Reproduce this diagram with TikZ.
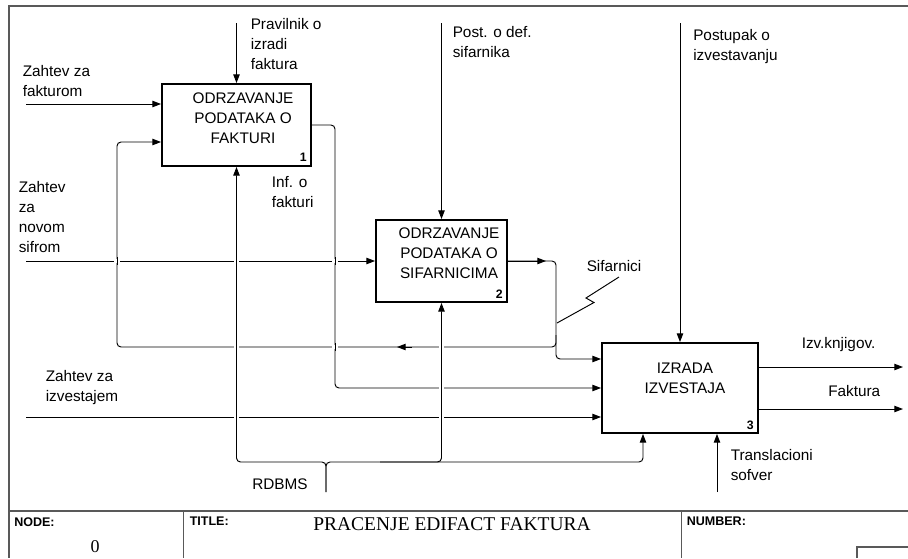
\documentclass[tikz,border=0pt]{standalone}
\usepackage{fontspec}
\setmainfont{Liberation Sans}
\newfontfamily\titlefont{Liberation Serif}
\usetikzlibrary{arrows.meta,calc}

% white gap in a horizontal line where a vertical line passes over it
\newcommand\crossgap[2]{%
  \fill[white] (#1-2.6,#2-1.6) rectangle (#1+2.6,#2+1.6);
  \draw[conn] (#1,#2-4) -- (#1,#2+4);}

\begin{document}
\begin{tikzpicture}[x=0.75pt,y=-0.75pt,
  conn/.style={line width=0.72pt, rounded corners=3pt},
  arr/.style={conn, -{Triangle[length=6.5pt,width=4.8pt]}},
  frame/.style={draw=black!65, line width=1.1pt},
  box/.style={draw, line width=1.4pt, inner sep=0pt},
  boxtext/.style={inner sep=0pt, align=center, font=\fontsize{11.5pt}{15pt}\selectfont},
  lbl/.style={inner sep=0pt, align=left, anchor=north west, font=\fontsize{11.5pt}{15pt}\selectfont},
  numlbl/.style={inner sep=0pt, anchor=south east, font=\bfseries\fontsize{9.2pt}{10pt}\selectfont},
  tbhead/.style={inner sep=0pt, anchor=north west, font=\bfseries\fontsize{9.4pt}{10pt}\selectfont}
]
\useasboundingbox (0,0) rectangle (908,558);

% ---- sheet frame and title block
\draw[frame] (908,6) -- (9,6) -- (9,558);
\draw[frame] (9,511) -- (908,511);
\draw[frame] (183.5,511) -- (183.5,558);
\draw[frame] (681.5,511) -- (681.5,558);
\draw[frame] (857,558) -- (857,547) -- (908,547);
\node[tbhead] (nodehd) at (14,517) {NODE:};
\node[tbhead] (titlehd) at (189.5,517) {TITLE:};
\node[tbhead] (numhd) at (686.5,517) {NUMBER:};
\node[inner sep=0pt, anchor=base, font=\titlefont\fontsize{14.6pt}{16pt}\selectfont] (title) at (452,530) {PRACENJE EDIFACT FAKTURA};
\node[inner sep=0pt, anchor=base, font=\titlefont\fontsize{13.5pt}{15pt}\selectfont] (nodeno) at (95,552.3) {0};

% ---- activity boxes
\node[box, minimum width={149*0.75pt}, minimum height={82*0.75pt}] (b1) at (236.5,125) {};
\node[box, minimum width={131*0.75pt}, minimum height={82*0.75pt}] (b2) at (441.5,261) {};
\node[box, minimum width={156*0.75pt}, minimum height={90*0.75pt}] (b3) at (680,388) {};
\node[boxtext, anchor=north] (t1) at (243,93) {ODRZAVANJE\\PODATAKA O\\FAKTURI};
\node[boxtext, anchor=north] (t2) at (449,228) {ODRZAVANJE\\PODATAKA O\\SIFARNICIMA};
\node[boxtext, anchor=north] (t3) at (685,363) {IZRADA\\IZVESTAJA};
\node[numlbl] (n1) at ($(b1.south east)+(-5,-5)$) {1};
\node[numlbl] (n2) at ($(b2.south east)+(-5,-4.5)$) {2};
\node[numlbl] (n3) at ($(b3.south east)+(-5,-4.5)$) {3};

% ---- free ends and bends
\coordinate (in1) at (26,104);
\coordinate (in2) at (26,261);
\coordinate (in3) at (26,417);
\coordinate (c1) at (236.5,23);
\coordinate (c2) at (441.5,23);
\coordinate (c3) at (680,23);
\coordinate (o1c) at (335,125);
\coordinate (o1b) at (335,388);
\coordinate (o2tip) at (546,261);
\coordinate (o2c) at (556,261);
\coordinate (o2b) at (556,359);
\coordinate (fbS) at (556,335);
\coordinate (fbR) at (556,347);
\coordinate (fbL) at (117,347);
\coordinate (fbT) at (117,142);
\coordinate (fbm1) at (412,347);
\coordinate (fbm2) at (397,347);
\coordinate (o3a) at (903,367);
\coordinate (o3b) at (903,409);
\coordinate (tr) at (717,492);
\coordinate (rd) at (326,492);
\coordinate (rdj) at (326,462);
\coordinate (m1) at (236.5,462);
\coordinate (m2s) at (380,462);
\coordinate (m2) at (441.5,462);
\coordinate (m3) at (643,462);
\coordinate (sq1) at (619,277);
\coordinate (sq2) at (586,298);
\coordinate (sq3) at (594,302.5);
\coordinate (sq4) at (557,323);

% ---- inputs
\draw[arr] (in1) -- (in1 -| b1.west);
\draw[arr] (in2) -- (b2.west);
\draw[arr] (in3) -- (in3 -| b3.west);

% ---- controls
\draw[arr] (c1) -- (b1.north);
\draw[arr] (c2) -- (b2.north);
\draw[arr] (c3) -- (b3.north);

% ---- outputs
\draw[arr] (b1.east) -- (o1c) -- (o1b) -- (o1b -| b3.west);
\draw[arr] (b2.east) -- (o2tip);
\draw[arr] (b2.east) -- (o2c) -- (o2b) -- (o2b -| b3.west);
\draw[arr] (fbS) -- (fbR) -- (fbL) -- (fbT) -- (fbT -| b1.west);
\draw[arr] (fbm1) -- (fbm2);
\draw[arr] (o3a -| b3.east) -- (o3a);
\draw[arr] (o3b -| b3.east) -- (o3b);

% ---- mechanisms
\draw[arr] (rd) -- (rdj) -- (m1) -- (b1.south);
\draw[arr] (rd) -- (rdj) -- (m3) -- (m3 |- b3.south);
\draw[arr] (m2s) -- (m2) -- (b2.south);
\draw[arr] (tr) -- (tr |- b3.south);

% ---- squiggle tying the label to the branch
\draw[conn, sharp corners] (sq1) -- (sq2) -- (sq3) -- (sq4);

% ---- crossings
\crossgap{117}{261}
\crossgap{236.5}{261}
\crossgap{335}{261}
\crossgap{236.5}{347}
\crossgap{335}{347}
\crossgap{441.5}{347}
\crossgap{441.5}{388}
\crossgap{236.5}{417}
\crossgap{441.5}{417}

% ---- arrow labels
\node[lbl] (lin1) at (22.5,65) {Zahtev za\\fakturom};
\node[lbl] (lc1) at (250.5,18.5) {Pravilnik o\\izradi\\faktura};
\node[lbl] (lc2) at (452.5,26.5) {Post. o def.\\sifarnika};
\node[lbl] (lc3) at (693,29.5) {Postupak o\\izvestavanju};
\node[lbl] (lo1) at (271.5,176) {Inf. o\\fakturi};
\node[lbl] (lin2) at (18.5,181.5) {Zahtev\\za\\novom\\sifrom};
\node[lbl] (lin3) at (45.5,370.5) {Zahtev za\\izvestajem};
\node[lbl] (lrd) at (252,479) {RDBMS};
\node[lbl] (lsif) at (586.5,260) {Sifarnici};
\node[lbl] (lo3a) at (801.5,337) {Izv.knjigov.};
\node[lbl] (lo3b) at (828,385) {Faktura};
\node[lbl] (ltr) at (730.5,449) {Translacioni\\sofver};
\end{tikzpicture}
\end{document}
